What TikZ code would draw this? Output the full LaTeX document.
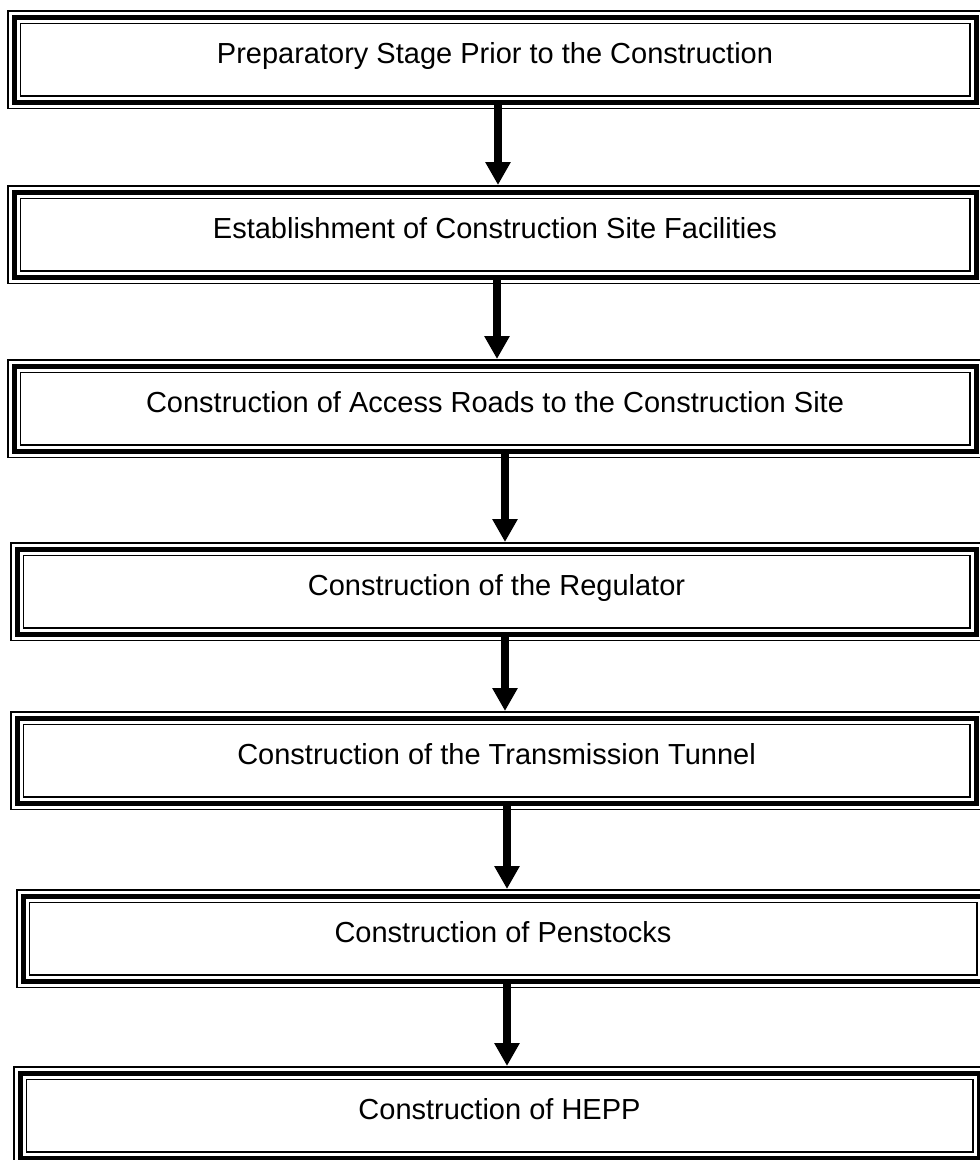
\documentclass[tikz,border=0pt]{standalone}
\usepackage{fontspec}
\setmainfont{Liberation Sans}
\usetikzlibrary{positioning}
\usetikzlibrary{arrows.meta}
\pgfkeys{tikz/stagebox/.style={draw,line width=14pt,outer sep=7pt,inner sep=0pt,
    postaction={draw=white,line width=11pt},postaction={draw=black,line width=5pt},
    minimum height=85pt,text height=21pt,text depth=14pt,font=\fontsize{29}{34}\selectfont}}
\pgfkeys{tikz/stagearrow/.style={line width=8pt,-{Triangle[width=24pt,length=23pt]}}}

\begin{document}
\begin{tikzpicture}
    \useasboundingbox (0,0) rectangle (980pt,-1160pt);
    \node[stagebox,minimum width=962pt] (prep) at (495pt,-59.5pt) {Preparatory Stage Prior to the Construction};
    \node[stagebox,minimum width=962pt,below=76pt of prep] (site) {Establishment of Construction Site Facilities};
    \node[stagebox,minimum width=962pt,below=75pt of site] (roads) {Construction of Access Roads to the Construction Site};
    \node[stagebox,minimum width=959pt,below=84pt of roads,xshift=1.5pt] (regul) {Construction of the Regulator};
    \node[stagebox,minimum width=959pt,below=70pt of regul] (tunnel) {Construction of the Transmission Tunnel};
    \node[stagebox,minimum width=960pt,below=79pt of tunnel,xshift=6.5pt] (penst) {Construction of Penstocks};
    \node[stagebox,minimum width=959pt,below=78pt of penst,xshift=-3.5pt] (hepp) {Construction of HEPP};
    % arrows between the stages
    \draw[stagearrow] ([xshift=3pt,yshift=5pt]prep.south) -- ([xshift=3pt]prep.south |- site.north);
    \draw[stagearrow] ([xshift=2pt,yshift=5pt]site.south) -- ([xshift=2pt]site.south |- roads.north);
    \draw[stagearrow] ([xshift=10pt,yshift=5pt]roads.south) -- ([xshift=10pt]roads.south |- regul.north);
    \draw[stagearrow] ([xshift=8.5pt,yshift=5pt]regul.south) -- ([xshift=8.5pt]regul.south |- tunnel.north);
    \draw[stagearrow] ([xshift=10.5pt,yshift=5pt]tunnel.south) -- ([xshift=10.5pt]tunnel.south |- penst.north);
    \draw[stagearrow] ([xshift=4pt,yshift=5pt]penst.south) -- ([xshift=4pt]penst.south |- hepp.north);
\end{tikzpicture}
\end{document}
